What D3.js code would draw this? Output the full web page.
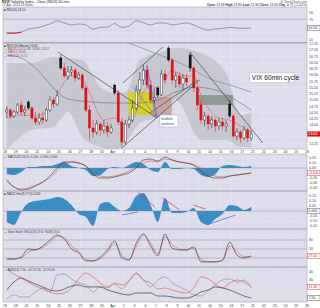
<!DOCTYPE html>
<html>
<head>
<meta charset="utf-8">
<script src="https://cdn.jsdelivr.net/npm/d3@7/dist/d3.min.js"></script>
<style>
  body { margin: 0; background: #fff; }
  svg { display: block; font-family: "Liberation Sans", Arial, sans-serif; }
</style>
</head>
<body>
<svg id="chart"></svg>
<script>
// $VIX 60 minute chart - 3 bars a day kept here
let dayLabels = ['18','19','20','21','24','25','26','27','28','31','Apr','2','3','4','7','8','9','10','11','14','15','16','17','21','22','23','24','25','28']

let opens = [14.52,14.60,14.36,14.52,14.80,14.52,14.92,14.68,14.28,14.12,
             14.28,14.20,14.60,15.00,14.84,16.68,16.28,15.96,16.12,16.20,
             15.88,16.00,15.48,14.60,13.88,13.72,14.04,13.80,13.96,13.72,
             15.60,15.28,14.12,13.32,14.04,14.20,14.68,15.40,15.80,16.20,
             15.60,15.00,15.48,15.20,16.04,17.08,16.60,15.80,15.96,15.64,
             15.88,16.80,16.28,15.48,14.80,14.20,14.36,14.04,14.20,13.96,
             14.12,13.96,14.84,14.36,13.56,13.72,13.48,13.80,13.48]
let highs = [14.76,14.68,14.60,14.88,14.92,14.76,15.00,14.76,14.52,14.48,
             14.52,14.68,15.16,15.12,15.40,16.80,16.48,16.36,16.36,16.28,
             16.12,16.08,15.56,14.80,14.20,14.20,14.12,14.20,14.12,14.04,
             15.64,15.40,14.28,14.20,14.36,15.00,15.60,16.12,16.40,16.36,
             15.80,15.48,15.56,16.20,16.20,17.16,16.68,16.12,16.12,16.04,
             16.04,16.92,16.36,15.56,15.00,14.52,14.44,14.36,14.28,14.28,
             14.28,14.20,15.00,14.44,13.88,13.80,13.96,13.88,13.80]
let lows = [14.28,14.24,14.28,14.44,14.40,14.36,14.60,14.20,14.00,14.00,
            14.04,14.12,14.52,14.68,14.76,16.20,15.88,15.80,15.96,15.72,
            15.80,15.40,14.52,13.40,13.48,13.60,13.56,13.64,13.52,13.64,
            15.20,14.00,13.08,13.20,13.88,14.12,14.60,15.24,15.60,15.48,
            14.84,14.84,15.08,15.16,15.64,16.52,15.64,15.48,15.48,15.40,
            15.56,16.12,15.32,14.60,14.04,13.96,13.80,13.88,13.72,13.80,
            13.80,13.72,14.28,13.48,13.40,13.28,13.40,13.32,13.36]
let closes = [14.60,14.36,14.52,14.80,14.52,14.60,14.68,14.28,14.12,14.28,
              14.20,14.60,15.00,14.84,15.16,16.28,15.96,16.12,16.20,15.88,
              16.00,15.48,14.60,13.88,13.72,14.04,13.80,13.96,13.72,13.88,
              15.28,14.12,13.32,14.04,14.20,14.68,15.40,15.80,16.20,15.60,
              15.00,15.08,15.20,16.04,15.80,16.60,15.80,15.96,15.64,15.88,
              15.72,16.28,15.48,14.80,14.20,14.36,14.04,14.20,13.96,14.12,
              13.96,14.04,14.36,13.56,13.72,13.48,13.80,13.48,13.64]

// overlays (bar index, value)
let bandIdx = [0,7,13,17,21,26,30,33,37,42,47,54,61,65,68]
let bandUpper = [16.48,16.48,16.72,16.68,16.60,15.52,15.28,15.32,16.60,16.88,17.08,16.88,16.08,14.40,14.48]
let bandLower = [13.00,13.80,13.92,14.52,13.52,13.12,13.00,13.28,14.08,14.32,15.00,13.40,13.40,13.12,13.12]
let emaIdx = [0,4,8,11,13,15,18,21,23,25,27,30,32,34,36,38,40,42,44,46,48,50,52,54,56,59,62,65,68]
let emaVals = [14.28,14.40,14.36,14.52,14.92,15.48,15.96,15.80,15.32,14.60,14.20,14.28,14.04,14.00,14.52,15.32,15.56,15.48,15.80,16.20,16.04,15.96,15.96,15.20,14.68,14.28,14.20,13.96,13.72]
let ma50Idx = [0,4,8,11,14,17,24,29,36,42,47,52,58,65,68]
let ma50Vals = [16.80,16.68,16.28,15.80,15.32,15.04,14.92,14.88,14.88,15.00,15.32,15.52,15.40,14.88,14.60]
let ma200Idx = [10,20,33,39,44,50,56,62,68]
let ma200Vals = [17.88,17.64,17.32,17.00,16.72,16.36,15.88,15.60,15.32]

// indicators, one value every 2 bars
let rsiVals = [29,29,32,41,44,49,56,65,59,53,56,53,41,46,47,57,46,50,65,60,53,59,59,53,56,59,53,44,38,41,43,46,44,43,44]
let macdLine = [-0.26,-0.38,-0.44,-0.42,-0.36,-0.28,-0.16,0.00,0.12,0.12,0.10,0.04,-0.12,-0.20,-0.20,-0.18,-0.14,-0.10,0.00,0.16,0.18,0.14,0.22,0.16,0.12,0.10,0.06,-0.06,-0.16,-0.20,-0.20,-0.16,-0.14,-0.12,-0.10]
let macdSignal = [-0.22,-0.38,-0.42,-0.40,-0.34,-0.28,-0.20,-0.06,0.06,0.12,0.10,0.04,-0.08,-0.16,-0.18,-0.16,-0.12,-0.06,0.02,0.10,0.14,0.12,0.18,0.16,0.12,0.10,0.06,0.00,-0.10,-0.16,-0.18,-0.16,-0.14,-0.12,-0.10]
let macdHist = [-0.12,-0.14,-0.08,0.02,0.02,0.04,0.04,0.08,0.12,0.04,0.00,-0.04,-0.16,-0.14,-0.02,0.02,0.00,0.06,0.12,0.08,-0.04,-0.08,0.12,-0.02,-0.02,0.00,-0.02,-0.14,-0.18,-0.12,0.04,0.06,0.04,0.02,0.04]
let histVals = [-0.11,-0.14,-0.01,0.08,0.10,0.11,0.12,0.14,0.12,0.06,-0.03,-0.06,-0.15,0.07,0.09,0.04,0.00,0.03,0.15,0.18,0.06,-0.11,0.13,-0.02,-0.02,-0.01,0.03,-0.11,-0.14,-0.08,-0.03,0.06,0.05,0.01,0.04]
let stochK = [17,17,23,50,47,60,80,97,83,50,37,10,10,23,47,77,20,13,70,100,60,27,100,53,47,47,57,7,7,7,13,73,30,20,27]
let stochD = [15,16,20,40,48,55,72,92,88,60,42,15,11,18,40,68,30,15,58,95,70,35,90,65,50,46,52,15,8,7,11,60,42,25,25]
let adxVals = [17.5,27.5,32.5,28.8,25,21.3,17.5,16.3,18.8,22.5,23.8,21.3,21.3,21.3,17.5,15,12.5,11.3,13.8,13.8,13.8,10,10,8.8,7.5,7.5,10,15,17.5,21.3,20,17.5,13.8,10,7.5]
let plusDI = [43.8,37.5,32.5,27.5,22.5,18.8,15,12.5,13.8,20,31.3,38.8,33.8,26.3,20,26.3,23.8,28.8,38.8,30,26.3,18.8,20,17.5,15,13.8,20,33.8,31.3,25,20,26.3,30,27.5,21.3]
let minusDI = [6.3,11.3,8.8,8.8,15,20,15,36.3,37.5,31.3,26.3,23.8,15,21.3,21.3,25,18.8,28.8,37.5,30,21.3,30,33.8,26.3,21.3,17.5,11.3,10,16.3,23.8,30,31.3,27.5,30,20]

// chart notes (bar index, value)
let trendLines = [[[14.2,16.92],[41.8,14.28]], [[32.3,15.68],[43.4,17.12]], [[32.0,13.08],[53.7,15.80]], [[50.9,16.92],[71.2,13.28]], [[39.8,14.48],[53.2,15.80]]]
let fanLines = [[[41.8,14.28],[37.9,16.32]], [[41.8,14.28],[39.0,16.40]], [[41.8,14.28],[35.1,15.52]]]
let noteBoxes = [[33.7,40.6,15.32,14.40,'#d4d21c',0.92], [40.6,45.9,15.12,14.32,'#c39c9a',0.8], [52.9,62.9,15.20,14.80,'#7e8e80',0.75]]
let histRed = [[[36.5,0.19],[41.2,0.04]], [[43.4,0.13],[48.1,0.01]], [[51.9,0.06],[55.2,0.02]]]
let histBlue = [[[32.0,-0.04],[36.5,-0.01]], [[55.5,-0.14],[63.6,-0.04]]]

let width = 320
let height = 308
let plotL = 3
let plotR = 307
let perDay = 3
let step = 2
let bg = '#dcdcea'

let svg = d3.select('#chart').attr('width', width).attr('height', height)
let defs = svg.append('defs')

let x = d3.scaleLinear().domain([0, dayLabels.length - 1]).range([5, 307])
let xc = (i) => x((i + 0.5) / perDay)

let panels = []
let makePanel = (id, top, bottom, domain, range, ticks, fmt) => {
    let y = d3.scaleLinear().domain(domain).range(range)
    let g = svg.append('g').attr('id', id)
    g.append('rect').attr('x', plotL).attr('y', top)
        .attr('width', plotR - plotL).attr('height', bottom - top).attr('fill', bg)
    g.selectAll('line.vg').data(dayLabels).enter().append('line')
        .attr('x1', (d, i) => x(i)).attr('x2', (d, i) => x(i))
        .attr('y1', top).attr('y2', bottom)
        .attr('stroke', '#f4f4fa').attr('stroke-width', 0.5).attr('stroke-dasharray', '1,1')
    g.selectAll('line.hg').data(ticks).enter().append('line')
        .attr('x1', plotL).attr('x2', plotR)
        .attr('y1', d => y(d)).attr('y2', d => y(d))
        .attr('stroke', '#f4f4fa').attr('stroke-width', 0.5).attr('stroke-dasharray', '1,1')
    g.selectAll('text.tk').data(ticks).enter().append('text')
        .attr('class', 'tk')
        .attr('x', plotR + 2).attr('y', d => y(d) + 1.3)
        .attr('font-size', 3.6).attr('fill', '#444')
        .text(fmt)
    defs.append('clipPath').attr('id', 'clip-' + id).append('rect')
        .attr('x', plotL).attr('y', top).attr('width', plotR - plotL).attr('height', bottom - top)
    let plot = g.append('g').attr('clip-path', `url(#clip-${id})`)
    let p = {y, g, plot, top, bottom}
    panels.push(p)
    return p
}

let line = (p, pts, color, w) => {
    p.plot.append('path').datum(pts)
        .attr('d', d3.line().x(d => xc(d[0])).y(d => p.y(d[1])).curve(d3.curveMonotoneX))
        .attr('fill', 'none').attr('stroke', color).attr('stroke-width', w)
}
let seg = (p, pts, color, w) => {
    p.plot.append('line')
        .attr('x1', xc(pts[0][0])).attr('y1', p.y(pts[0][1]))
        .attr('x2', xc(pts[1][0])).attr('y2', p.y(pts[1][1]))
        .attr('stroke', color).attr('stroke-width', w)
}
let every = (vals) => vals.map((v, k) => [k * step, v])
let zip = (idx, vals) => idx.map((i, k) => [i, vals[k]])

// last-value tag on the right axis; the tick label it covers is dropped
let tag = (p, v, txt, fill, color) => {
    p.g.selectAll('text.tk').filter(d => Math.abs(p.y(d) - p.y(v)) < 4.8).remove()
    p.g.append('rect').attr('x', plotR + 0.5).attr('y', p.y(v) - 2.3)
        .attr('width', 12.5).attr('height', 4.6).attr('fill', fill).attr('stroke', color).attr('stroke-width', 0.4)
    p.g.append('text').attr('x', plotR + 1.5).attr('y', p.y(v) + 1.3)
        .attr('font-size', 3.5).attr('fill', fill === '#fff' ? color : '#fff').text(txt)
}

// title
svg.append('text').attr('x', 2).attr('y', 3).attr('font-size', 3.6).attr('fill', '#222')
    .html('<tspan font-weight="bold">$VIX</tspan> Volatility Index - Cboe (INDX) 60-min')
svg.append('text').attr('x', 2).attr('y', 6.3).attr('font-size', 3.2).attr('fill', '#444').text('17-Apr-2014 10:30am')
svg.append('text').attr('x', plotR).attr('y', 3).attr('font-size', 3).attr('fill', '#555')
    .attr('text-anchor', 'end').text('@ StockCharts.com')
svg.append('text').attr('x', plotR).attr('y', 6.3).attr('font-size', 3.3).attr('fill', '#333')
    .attr('text-anchor', 'end')
    .html('<tspan font-weight="bold">Open</tspan> 13.48 <tspan font-weight="bold">High</tspan> 13.80 <tspan font-weight="bold">Low</tspan> 13.36 <tspan font-weight="bold">Close</tspan> 13.64 <tspan font-weight="bold">Chg</tspan> -0.72 (-5.01%)')

// RSI panel
let pR = makePanel('rsi', 7, 43, [0, 100], [43, 9], [10, 30, 50, 70, 90], d => d)
pR.plot.append('line').attr('x1', plotL).attr('x2', plotR).attr('y1', pR.y(70)).attr('y2', pR.y(70))
    .attr('stroke', '#8a8a98').attr('stroke-width', 0.5)
pR.plot.append('line').attr('x1', plotL).attr('x2', plotR).attr('y1', pR.y(0) - 0.3).attr('y2', pR.y(0) - 0.3)
    .attr('stroke', '#c07878').attr('stroke-width', 0.6)
line(pR, every(rsiVals), '#666', 0.6)
line(pR, every(rsiVals).slice(0, 3), '#d01818', 1)
pR.g.append('text').attr('x', 4).attr('y', 10.5).attr('font-size', 3).attr('fill', '#333').text('■ RSI(14) 44.10')
tag(pR, 44, '44.10', '#fff', '#333')

// price panel
let priceTicks = d3.range(13.25, 17.3, 0.25)
let pP = makePanel('price', 43, 149, [13.04, 17.28], [149, 43], priceTicks, d => d.toFixed(2))
pP.plot.append('path').datum(zip(bandIdx, bandUpper).map((d, k) => [d[0], d[1], bandLower[k]]))
    .attr('d', d3.area().x(d => xc(d[0])).y0(d => pP.y(d[2])).y1(d => pP.y(d[1])).curve(d3.curveMonotoneX))
    .attr('fill', '#c2c2cc').attr('opacity', 0.8)
pP.plot.selectAll('rect.note').data(noteBoxes).enter().append('rect')
    .attr('x', d => xc(d[0])).attr('width', d => xc(d[1]) - xc(d[0]))
    .attr('y', d => pP.y(d[2])).attr('height', d => pP.y(d[3]) - pP.y(d[2]))
    .attr('fill', d => d[4]).attr('opacity', d => d[5])
line(pP, zip(ma200Idx, ma200Vals), '#7d8cab', 0.7)
line(pP, zip(ma50Idx, ma50Vals), '#6a6a70', 0.6)
line(pP, zip(emaIdx, emaVals), '#e06060', 0.6)

let candles = closes.map((c, i) => ({i: i, o: opens[i], h: highs[i], l: lows[i], c: c, prev: i ? closes[i - 1] : opens[i]}))
let colorOf = d => d.c < d.prev ? '#e01010' : '#111'
pP.plot.selectAll('line.wick').data(candles).enter().append('line')
    .attr('x1', d => xc(d.i)).attr('x2', d => xc(d.i))
    .attr('y1', d => pP.y(d.h)).attr('y2', d => pP.y(d.l))
    .attr('stroke', colorOf).attr('stroke-width', 0.5)
pP.plot.selectAll('rect.body').data(candles).enter().append('rect')
    .attr('x', d => xc(d.i) - 1.1).attr('width', 2.2)
    .attr('y', d => pP.y(Math.max(d.o, d.c)))
    .attr('height', d => Math.max(0.6, Math.abs(pP.y(d.o) - pP.y(d.c))))
    .attr('fill', d => d.c < d.o ? colorOf(d) : '#fff')
    .attr('stroke', colorOf).attr('stroke-width', 0.4)

trendLines.forEach(t => seg(pP, t, '#333', 0.6))
fanLines.forEach(t => seg(pP, t, '#5060d8', 0.6))

let note1 = pP.g.append('g').attr('transform', `translate(${xc(67.6)},${pP.y(16.08)})`)
note1.append('rect').attr('width', 45).attr('height', 9.5).attr('fill', '#fff').attr('stroke', '#aaa').attr('stroke-width', 0.4)
note1.append('text').attr('x', 2).attr('y', 7).attr('font-size', 6.6).attr('fill', '#222').text('VIX 60min cycle')
let note2 = pP.g.append('g').attr('transform', `translate(${xc(42.6)},${pP.y(14.40)})`)
note2.append('rect').attr('width', 18).attr('height', 12).attr('fill', '#fff').attr('stroke', '#9ab').attr('stroke-width', 0.4)
note2.append('text').attr('x', 1.5).attr('y', 5).attr('font-size', 4).attr('fill', '#3050a0').text('bullish')
note2.append('text').attr('x', 1.5).attr('y', 9.8).attr('font-size', 4).attr('fill', '#3050a0').text('pattern')

let legend = [['■ $VIX (60 Minute) 13.64', '#222'], ['— BB(20,2.0) 14.48, 13.80, 13.12', '#555'], ['— MA(50) 14.60', '#c03030'], ['— MA(200) 15.32', '#667']]
pP.g.selectAll('text.lg').data(legend).enter().append('text')
    .attr('x', 4).attr('y', (d, i) => 46.5 + i * 3.4).attr('font-size', 3).attr('fill', d => d[1]).text(d => d[0])
tag(pP, 13.64, '13.64', '#e01010', '#e01010')

// date labels
let dateRow = (yy) => svg.append('g').selectAll('text').data(dayLabels).enter().append('text')
    .attr('x', (d, i) => x(i)).attr('y', yy).attr('text-anchor', 'middle')
    .attr('font-size', 3.5).attr('fill', '#333').text(d => d)
dateRow(153)

// MACD panel
let pM = makePanel('macd', 154, 191, [-0.46, 0.28], [191, 154], [-0.4, -0.3, -0.2, -0.1, 0, 0.1, 0.2], d => d.toFixed(2))
pM.plot.append('path').datum(macdHist)
    .attr('d', d3.area().x((d, k) => xc(k * step)).y0(pM.y(0)).y1(d => pM.y(d)).curve(d3.curveMonotoneX))
    .attr('fill', '#3b8ec4')
pM.plot.append('line').attr('x1', plotL).attr('x2', plotR).attr('y1', pM.y(0)).attr('y2', pM.y(0))
    .attr('stroke', '#777').attr('stroke-width', 0.4)
line(pM, every(macdSignal), '#e05050', 0.6)
line(pM, every(macdLine), '#333', 0.6)
pM.g.append('text').attr('x', 4).attr('y', 157.5).attr('font-size', 3).attr('fill', '#333')
    .text('— MACD(12,26,9) -0.100, -0.100, 0.000')
tag(pM, -0.10, '-0.100', '#fff', '#e01010')

// MACD histogram panel
let pH = makePanel('hist', 191, 229, [-0.18, 0.2], [229, 191], [-0.15, -0.1, -0.05, 0, 0.05, 0.1, 0.15], d => d.toFixed(2))
pH.plot.append('path').datum(histVals)
    .attr('d', d3.area().x((d, k) => xc(k * step)).y0(pH.y(0)).y1(d => pH.y(d)).curve(d3.curveMonotoneX))
    .attr('fill', '#3b8ec4')
pH.plot.append('line').attr('x1', plotL).attr('x2', plotR).attr('y1', pH.y(0)).attr('y2', pH.y(0))
    .attr('stroke', '#777').attr('stroke-width', 0.4)
histRed.forEach(t => seg(pH, t, '#e03030', 0.7))
histBlue.forEach(t => seg(pH, t, '#5060e0', 0.7))
pH.g.append('text').attr('x', 4).attr('y', 194.5).attr('font-size', 3).attr('fill', '#333')
    .text('■ MACD-Hist(8,17,9) 0.040')
tag(pH, 0, '0.000', '#fff', '#333')

// stochastics panel
let pS = makePanel('stoch', 229, 267, [0, 100], [264, 234], [20, 50, 80], d => d)
;[20, 50, 80].forEach(v => pS.plot.append('line').attr('x1', plotL).attr('x2', plotR)
    .attr('y1', pS.y(v)).attr('y2', pS.y(v)).attr('stroke', '#8a8a98').attr('stroke-width', 0.5))
line(pS, every(stochD), '#e05050', 0.6)
line(pS, every(stochK), '#333', 0.6)
pS.g.append('text').attr('x', 4).attr('y', 232.5).attr('font-size', 3).attr('fill', '#333')
    .text('— Slow Stoch %K(14,3) 27.0, %D(3) 25.0')
tag(pS, 27, '27.00', '#fff', '#e01010')

// ADX panel
let pA = makePanel('adx', 267, 302, [0, 45], [304, 268], [10, 20, 30, 40], d => d)
line(pA, every(minusDI), '#8a8a8a', 0.6)
line(pA, every(plusDI), '#e05050', 0.6)
line(pA, every(adxVals), '#222', 0.6)
pA.g.append('text').attr('x', 4).attr('y', 270.5).attr('font-size', 3).attr('fill', '#333')
    .text('— ADX(14) 7.50, +DI 21.30, -DI 20.00')
tag(pA, 21.3, '21.30', '#fff', '#e01010')
tag(pA, 7.5, '7.50', '#fff', '#333')
dateRow(306.5)

// borders
panels.forEach(p => {
    svg.append('rect').attr('x', plotL).attr('y', p.top)
        .attr('width', plotR - plotL).attr('height', p.bottom - p.top)
        .attr('fill', 'none').attr('stroke', '#9a9aaa').attr('stroke-width', 0.5)
})
</script>
</body>
</html>
